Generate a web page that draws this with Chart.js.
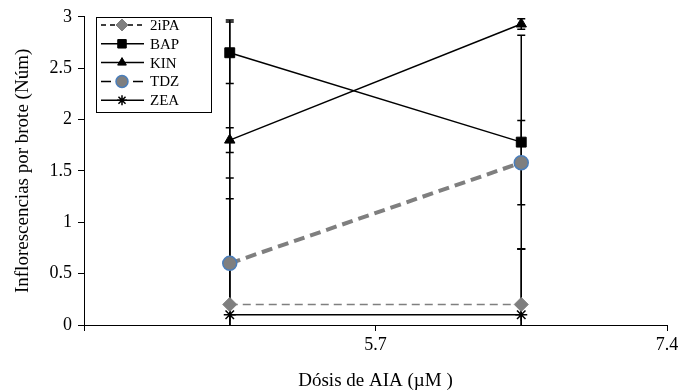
<!DOCTYPE html>
<html><head><meta charset="utf-8">
<script src="https://cdn.jsdelivr.net/npm/chart.js@4.4.0/dist/chart.umd.min.js"></script>
<style>html,body{margin:0;padding:0;background:#fff}#wrap{width:691px;height:392px}</style>
</head><body><div id="wrap"><canvas id="c" width="691" height="392"></canvas></div>
<script>
// ---- data ----
const doses = [4.85, 6.55];
const xTickValues = [4.0, 5.7, 7.4];
const seriesNames = ['2iPA', 'BAP', 'KIN', 'TDZ', 'ZEA'];
const v2iPA = [0.2, 0.2];
const vBAP  = [2.65, 1.78];
const vKIN  = [1.8, 2.93];
const vTDZ  = [0.6, 1.58];
const vZEA  = [0.1, 0.1];
const e2iPA = [1.23, 0.54];
const eBAP  = [0.3, 1.04];
const eKIN  = [0.12, 0.05];
const eTDZ  = [0.63, 0.41];
const eZEA  = [2.87, 0.64];
const xTitle = 'Dósis de AIA (µM )';
const yTitle = 'Inflorescencias por brote (Núm)';

const FONT = "'Liberation Serif', 'Times New Roman', serif";
const pts = vals => vals.map((v, i) => ({x: doses[i], y: v}));
const allErrors = [e2iPA, eBAP, eKIN, eTDZ, eZEA];

const datasets = [
  {label: seriesNames[0], data: pts(v2iPA), borderColor: '#7f7f7f', borderWidth: 1.5, borderDash: [8, 5],
   pointStyle: 'rectRot', pointRadius: 7, pointBackgroundColor: '#7f7f7f', pointBorderColor: '#7f7f7f', pointBorderWidth: 1,
   legendDash: [5, 4], legendColor: '#000', legendWidth: 1.5},
  {label: seriesNames[1], data: pts(vBAP), borderColor: '#000', borderWidth: 1.5,
   pointStyle: 'rect', pointRadius: 7, pointBackgroundColor: '#000', pointBorderColor: '#000', pointBorderWidth: 1,
   legendDash: [], legendColor: '#000', legendWidth: 1.5},
  {label: seriesNames[2], data: pts(vKIN), borderColor: '#000', borderWidth: 1.5,
   pointStyle: 'triangle', pointRadius: 6, pointBackgroundColor: '#000', pointBorderColor: '#000', pointBorderWidth: 1,
   legendDash: [], legendColor: '#000', legendWidth: 1.5},
  {label: seriesNames[3], data: pts(vTDZ), borderColor: '#7f7f7f', borderWidth: 4, borderDash: [11, 6],
   pointStyle: 'circle', pointRadius: 7, pointBackgroundColor: '#7f7f7f', pointBorderColor: '#4a7ebb', pointBorderWidth: 1.5,
   legendDash: [10, 6], legendColor: '#000', legendWidth: 1.5},
  {label: seriesNames[4], data: pts(vZEA), borderColor: '#000', borderWidth: 1.5,
   pointStyle: 'star', pointRadius: 6, pointBackgroundColor: '#000', pointBorderColor: '#000', pointBorderWidth: 1.5,
   legendDash: [], legendColor: '#000', legendWidth: 1.5}
];

const errorBars = {
  id: 'errorBars',
  beforeDatasetsDraw(chart) {
    const {ctx, chartArea: a, scales: {x, y}} = chart;
    ctx.save();
    ctx.beginPath();
    ctx.rect(a.left - 10, a.top, a.right - a.left + 20, a.bottom - a.top);
    ctx.clip();
    ctx.strokeStyle = '#000';
    ctx.lineWidth = 1.5;
    chart.data.datasets.forEach((ds, di) => {
      ds.data.forEach((p, i) => {
        const e = allErrors[di][i];
        const px = x.getPixelForValue(p.x);
        const yt = y.getPixelForValue(p.y + e);
        const yb = y.getPixelForValue(p.y - e);
        ctx.beginPath();
        ctx.moveTo(px, yt); ctx.lineTo(px, yb);
        ctx.moveTo(px - 4, yt); ctx.lineTo(px + 4, yt);
        ctx.moveTo(px - 4, yb); ctx.lineTo(px + 4, yb);
        ctx.stroke();
      });
    });
    ctx.restore();
  }
};

const boxLegend = {
  id: 'boxLegend',
  afterDraw(chart) {
    const ctx = chart.ctx;
    ctx.save();
    ctx.strokeStyle = '#000';
    ctx.lineWidth = 1;
    ctx.setLineDash([]);
    ctx.strokeRect(96.5, 17.5, 115, 95);
    chart.data.datasets.forEach((ds, i) => {
      const yy = 25 + i * 18.8;
      ctx.setLineDash(ds.legendDash);
      ctx.strokeStyle = ds.legendColor;
      ctx.lineWidth = ds.legendWidth;
      ctx.beginPath(); ctx.moveTo(101, yy); ctx.lineTo(144, yy); ctx.stroke();
      ctx.setLineDash([]);
      ctx.fillStyle = ds.pointBackgroundColor;
      ctx.strokeStyle = ds.pointBorderColor;
      ctx.lineWidth = ds.pointBorderWidth;
      Chart.helpers.drawPoint(ctx, {pointStyle: ds.pointStyle, radius: ds.pointRadius - 1, borderWidth: ds.pointBorderWidth, rotation: 0}, 122, yy);
      ctx.fillStyle = '#000';
      ctx.font = '15px ' + FONT;
      ctx.textBaseline = 'middle';
      ctx.textAlign = 'left';
      ctx.fillText(ds.label, 150, yy + 1);
    });
    ctx.restore();
  }
};

new Chart(document.getElementById('c'), {
  type: 'line',
  data: {datasets},
  options: {
    responsive: false,
    animation: false,
    layout: {padding: {top: 16, right: 24, left: 0, bottom: 0}},
    plugins: {legend: {display: false}, tooltip: {enabled: false}},
    elements: {line: {tension: 0, fill: false}},
    scales: {
      x: {
        type: 'linear', min: 4.0, max: 7.4,
        afterBuildTicks: s => { s.ticks = xTickValues.map(v => ({value: v})); },
        afterFit: s => { s.height = 67; },
        ticks: {color: '#000', font: {family: FONT, size: 18}, maxRotation: 0, autoSkip: false, padding: 3,
                callback: v => (v === 4 ? '' : v.toFixed(1))},
        grid: {drawOnChartArea: false, drawTicks: true, tickLength: 6, color: '#000', lineWidth: 1},
        border: {color: '#000', width: 1},
        title: {display: true, text: xTitle, color: '#000', font: {family: FONT, size: 19}, padding: {top: -1, bottom: 0}}
      },
      y: {
        min: 0, max: 3,
        afterFit: s => { s.width = 84; },
        ticks: {stepSize: 0.5, color: '#000', font: {family: FONT, size: 18}, padding: 6,
                callback: v => String(Number(v.toFixed(1)))},
        grid: {drawOnChartArea: false, drawTicks: true, tickLength: 6, color: '#000', lineWidth: 1},
        border: {color: '#000', width: 1},
        title: {display: true, text: yTitle, color: '#000', font: {family: FONT, size: 19}, padding: {top: 12, bottom: 0}}
      }
    }
  },
  plugins: [errorBars, boxLegend]
});
</script>
</body></html>
